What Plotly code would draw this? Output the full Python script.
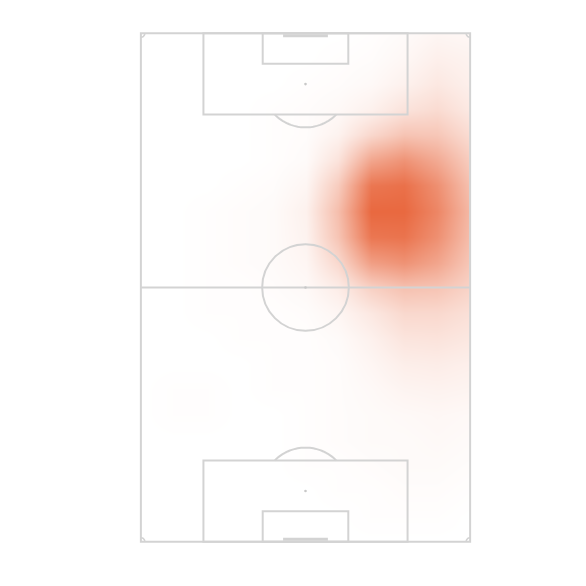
import numpy as np
import plotly.graph_objects as go

# Grid positions (Wyscout-style pitch coordinates, 0-100 each way)
grid_x = [0, 10, 20, 30, 40, 50, 60, 70, 80, 90, 100]          # across the pitch
grid_y = [0, 5, 10, 15, 20, 25, 30, 35, 40, 45, 50,
          55, 60, 65, 70, 75, 80, 85, 90, 95, 100]              # along the pitch (bottom -> top)

# Relative density (row per grid_y value)
density_y0 = [0, 0, 0, 0, 0, 0, 0, 0, 0, 0, 0]
density_y5 = [0, 0, 0, 0, 0, 0, 0, 0.01, 0.01, 0.01, 0]
density_y10 = [0, 0, 0, 0, 0, 0, 0.01, 0.01, 0.02, 0.02, 0.01]
density_y15 = [0, 0, 0, 0, 0, 0.01, 0.01, 0.02, 0.03, 0.03, 0.02]
density_y20 = [0, 0, 0, 0, 0, 0.01, 0.02, 0.03, 0.03, 0.04, 0.03]
density_y25 = [0, 0.01, 0.01, 0, 0, 0.01, 0.02, 0.03, 0.04, 0.05, 0.04]
density_y30 = [0, 0.01, 0.01, 0, 0.01, 0.01, 0.02, 0.04, 0.07, 0.08, 0.07]
density_y35 = [0, 0, 0, 0, 0.01, 0.01, 0.02, 0.06, 0.11, 0.12, 0.10]
density_y40 = [0, 0, 0, 0.01, 0.01, 0.01, 0.03, 0.09, 0.17, 0.18, 0.15]
density_y45 = [0, 0, 0.01, 0.01, 0.01, 0.02, 0.06, 0.15, 0.25, 0.25, 0.20]
density_y50 = [0, 0, 0.01, 0.01, 0.02, 0.04, 0.12, 0.30, 0.40, 0.38, 0.28]
density_y55 = [0, 0, 0.01, 0.02, 0.03, 0.06, 0.25, 0.62, 0.70, 0.58, 0.36]
density_y60 = [0, 0, 0.01, 0.02, 0.03, 0.08, 0.38, 0.88, 0.90, 0.72, 0.42]
density_y65 = [0, 0, 0.01, 0.02, 0.03, 0.09, 0.42, 0.97, 0.97, 0.78, 0.45]
density_y70 = [0, 0, 0, 0.01, 0.02, 0.06, 0.33, 0.88, 0.92, 0.72, 0.40]
density_y75 = [0, 0, 0, 0, 0.01, 0.03, 0.18, 0.58, 0.70, 0.55, 0.32]
density_y80 = [0, 0, 0, 0, 0.01, 0.02, 0.08, 0.25, 0.38, 0.36, 0.22]
density_y85 = [0, 0, 0, 0, 0.01, 0.02, 0.04, 0.09, 0.18, 0.23, 0.14]
density_y90 = [0, 0, 0, 0, 0, 0.01, 0.02, 0.04, 0.09, 0.15, 0.10]
density_y95 = [0, 0, 0, 0, 0, 0, 0.01, 0.02, 0.05, 0.10, 0.08]
density_y100 = [0, 0, 0, 0, 0, 0, 0, 0.01, 0.03, 0.06, 0.05]

density_rows = [density_y0, density_y5, density_y10, density_y15, density_y20,
                density_y25, density_y30, density_y35, density_y40, density_y45,
                density_y50, density_y55, density_y60, density_y65, density_y70,
                density_y75, density_y80, density_y85, density_y90, density_y95,
                density_y100]

LINE = "#d3d3d3"
HEAT = "#e8643a"

fig = go.Figure()
fig.add_trace(go.Heatmap(
    x=grid_x, y=grid_y, z=density_rows,
    zmin=0, zmax=1, zsmooth="best",
    colorscale=[[0, "#ffffff"], [1, HEAT]],
    showscale=False, hoverinfo="skip",
))

shapes = []
# white masks outside pitch
for (x0, y0, x1, y1) in [(-5, -5, 0, 105), (100, -5, 105, 105),
                         (-5, -5, 105, 0), (-5, 100, 105, 105)]:
    shapes.append(dict(type="rect", x0=x0, y0=y0, x1=x1, y1=y1,
                       fillcolor="white", line=dict(width=0), layer="above"))

ln = dict(color=LINE, width=2)
def rect(x0, y0, x1, y1):
    shapes.append(dict(type="rect", x0=x0, y0=y0, x1=x1, y1=y1, line=ln, layer="above"))

rect(0, 0, 100, 100)
shapes.append(dict(type="line", x0=0, y0=50, x1=100, y1=50, line=ln, layer="above"))
# penalty / six yard boxes
rect(19, 84, 81, 100)
rect(37, 94, 63, 100)
rect(19, 0, 81, 16)
rect(37, 0, 63, 6)

# circle radii (in data units, aspect is not 1:1)
RX, RY = 13.16, 8.51
shapes.append(dict(type="circle", x0=50 - RX, x1=50 + RX, y0=50 - RY, y1=50 + RY,
                   line=ln, layer="above"))

def path_from(xs, ys):
    return "M " + " L ".join(f"{a:.3f},{b:.3f}" for a, b in zip(xs, ys))

# penalty arcs
th = np.radians(np.linspace(44.8, 135.2, 40))
shapes.append(dict(type="path", path=path_from(50 + RX * np.cos(th), 90 - RY * np.sin(th)),
                   line=ln, layer="above"))
shapes.append(dict(type="path", path=path_from(50 + RX * np.cos(th), 10 + RY * np.sin(th)),
                   line=ln, layer="above"))

# corner arcs
cr_x, cr_y = 1.2, 0.8
q = np.radians(np.linspace(0, 90, 10))
for cx, cy, sx, sy in [(0, 0, 1, 1), (100, 0, -1, 1), (0, 100, 1, -1), (100, 100, -1, -1)]:
    shapes.append(dict(type="path",
                       path=path_from(cx + sx * cr_x * np.cos(q), cy + sy * cr_y * np.sin(q)),
                       line=dict(color=LINE, width=1.5), layer="above"))

# goals
shapes.append(dict(type="line", x0=43.2, x1=56.8, y0=99.5, y1=99.5,
                   line=dict(color=LINE, width=3), layer="above"))
shapes.append(dict(type="line", x0=43.2, x1=56.8, y0=0.5, y1=0.5,
                   line=dict(color=LINE, width=3), layer="above"))

# spots
for sy in [90, 50, 10]:
    shapes.append(dict(type="circle", x0=50 - 0.4, x1=50 + 0.4, y0=sy - 0.25, y1=sy + 0.25,
                       fillcolor="#c8c8c8", line=dict(width=0), layer="above"))

fig.update_layout(
    width=586, height=586,
    margin=dict(l=123, r=114, t=10, b=37),
    paper_bgcolor="white", plot_bgcolor="white",
    xaxis=dict(range=[-3, 103], visible=False, fixedrange=True),
    yaxis=dict(range=[-3, 103], visible=False, fixedrange=True),
    shapes=shapes, showlegend=False,
)
fig.write_html("out.html")
